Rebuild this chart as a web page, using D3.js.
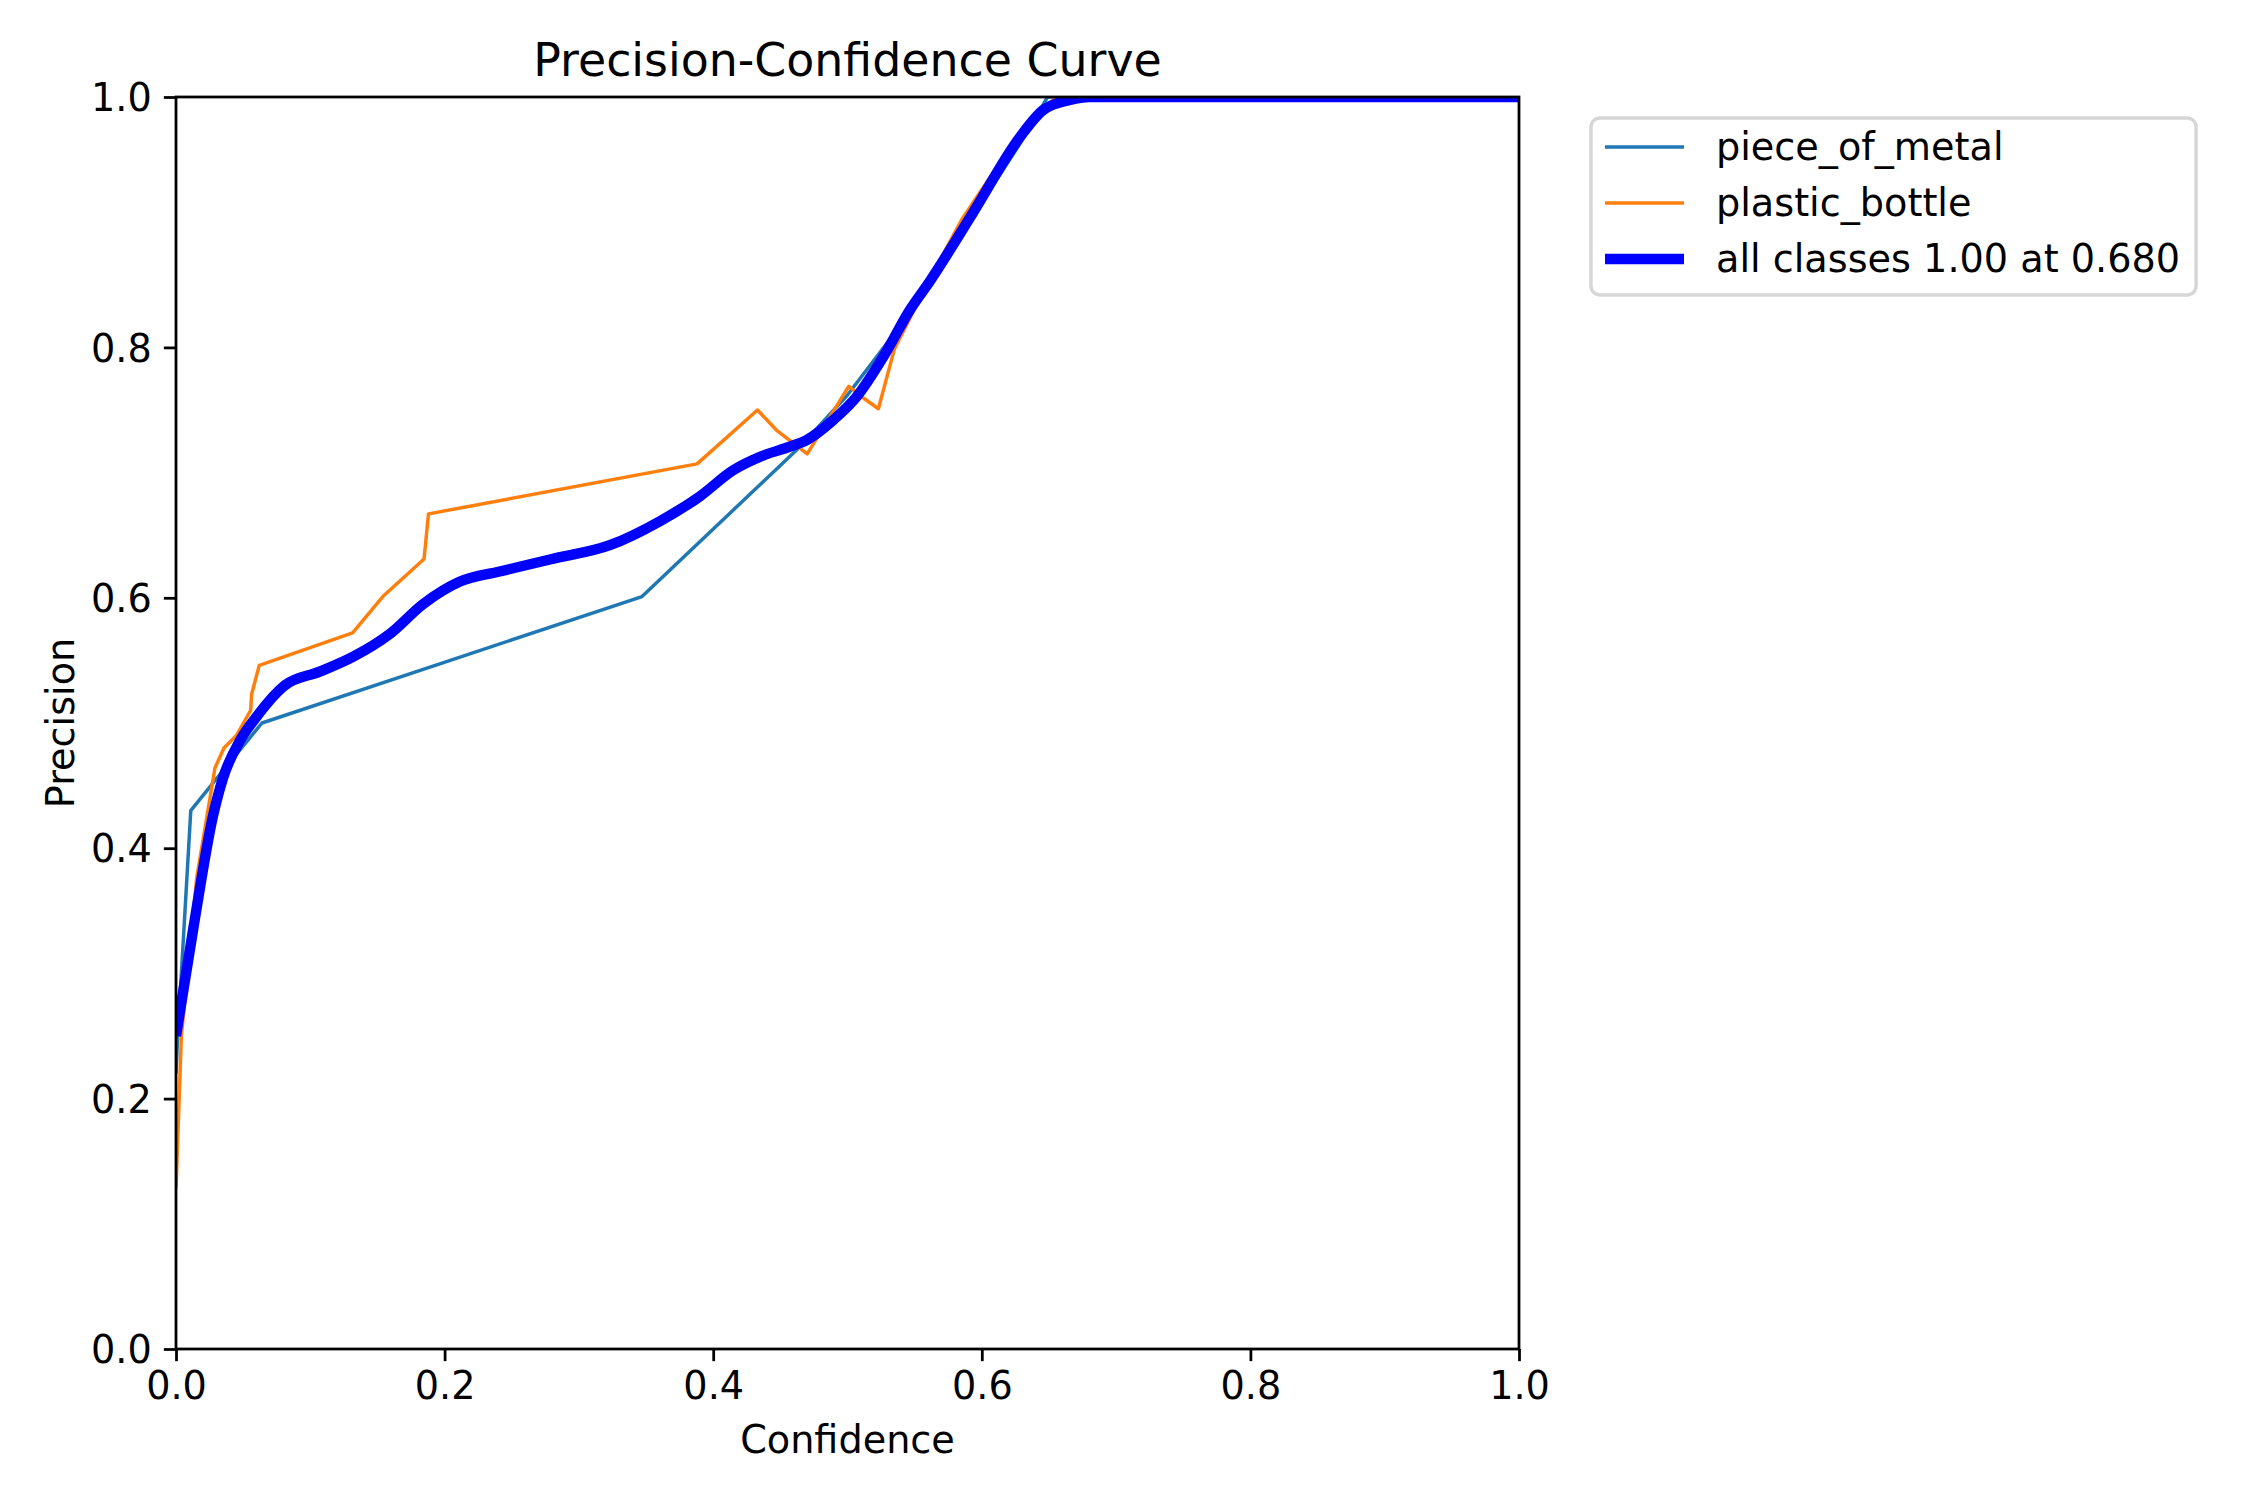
<!DOCTYPE html>
<html>
<head>
<meta charset="utf-8">
<script src="https://cdn.jsdelivr.net/npm/d3@7"></script>
<style>
  html,body{margin:0;padding:0;background:#fff;}
  text{font-family:"DejaVu Sans",sans-serif;fill:#000;}
</style>
</head>
<body>
<div id="chart"></div>
<script>
// data
const seriesNames = ['piece_of_metal', 'plastic_bottle', 'all classes 1.00 at 0.680'];

const metalConf = [0, 0.001, 0.011, 0.029, 0.064, 0.347, 0.465, 0.50, 0.537, 0.562, 0.594, 0.628, 0.649, 1.0];
const metalPrec = [0.22, 0.244, 0.43, 0.454, 0.50, 0.601, 0.721, 0.762, 0.814, 0.853, 0.906, 0.962, 1.0, 1.0];

const bottleConf = [0, 0.004, 0.0154, 0.029, 0.0357, 0.045, 0.0556, 0.0563, 0.062, 0.1315, 0.154, 0.1847, 0.188, 0.388, 0.433, 0.447, 0.470, 0.501, 0.510, 0.523, 0.535, 0.56, 0.585, 0.62, 0.655, 1.0];
const bottlePrec = [0.128, 0.25, 0.376, 0.464, 0.48, 0.49, 0.51, 0.523, 0.546, 0.572, 0.601, 0.631, 0.667, 0.707, 0.750, 0.734, 0.715, 0.769, 0.761, 0.751, 0.799, 0.852, 0.902, 0.958, 1.0, 1.0];

const allConf = [0, 0.0129, 0.0278, 0.035, 0.0477, 0.060, 0.081, 0.107, 0.132, 0.159, 0.184, 0.2115, 0.241, 0.28, 0.323, 0.360, 0.390, 0.415, 0.435, 0.457, 0.4696, 0.4894, 0.5068, 0.5267, 0.5465, 0.5614, 0.5937, 0.6284, 0.6458, 0.6657, 0.68, 1.0];
const allPrec = [0.25, 0.336, 0.427, 0.456, 0.486, 0.505, 0.530, 0.541, 0.553, 0.571, 0.595, 0.613, 0.621, 0.631, 0.642, 0.661, 0.681, 0.702, 0.7127, 0.7207, 0.726, 0.742, 0.7606, 0.7926, 0.83, 0.853, 0.908, 0.968, 0.9896, 0.9976, 1.0, 1.0];

const tickVals = [0, 0.2, 0.4, 0.6, 0.8, 1.0];

const W = 2250, H = 1500;
const pt = 250/72;            // matplotlib dpi 250
const fs = 10*pt*1.1;         // text size as it comes out in the picture
const m = {left:176, top:97, right:1519, bottom:1349};

const svg = d3.select('#chart').append('svg').attr('width', W).attr('height', H);

const x = d3.scaleLinear().domain([0,1]).range([m.left, m.right]);
const y = d3.scaleLinear().domain([0,1]).range([m.bottom, m.top]);

svg.append('clipPath').attr('id','plotclip').append('rect')
  .attr('x', m.left).attr('y', m.top).attr('width', m.right-m.left).attr('height', m.bottom-m.top);

const zip = (a,b)=> a.map((v,i)=>[v,b[i]]);
const series = [
  {name:seriesNames[0], pts:zip(metalConf, metalPrec), color:'#1f77b4', lw:1*pt, curve:d3.curveLinear},
  {name:seriesNames[1], pts:zip(bottleConf, bottlePrec), color:'#ff7f0e', lw:1*pt, curve:d3.curveLinear},
  {name:seriesNames[2], pts:zip(allConf, allPrec), color:'#0000ff', lw:3*pt, curve:d3.curveMonotoneX}
];

const plot = svg.append('g').attr('clip-path','url(#plotclip)');
series.forEach(s=>{
  const line = d3.line().x(d=>x(d[0])).y(d=>y(d[1])).curve(s.curve);
  plot.append('path').datum(s.pts)
    .attr('fill','none').attr('stroke', s.color).attr('stroke-width', s.lw)
    .attr('stroke-linejoin','round').attr('stroke-linecap','butt')
    .attr('d', line);
});

// axes
const xAxis = d3.axisBottom(x).tickValues(tickVals).tickFormat(d3.format('.1f')).tickSize(3.5*pt).tickPadding(3.5*pt);
const yAxis = d3.axisLeft(y).tickValues(tickVals).tickFormat(d3.format('.1f')).tickSize(3.5*pt).tickPadding(3.5*pt);

const gx = svg.append('g').attr('transform', `translate(0,${m.bottom})`).call(xAxis);
const gy = svg.append('g').attr('transform', `translate(${m.left},0)`).call(yAxis);
[gx, gy].forEach(g=>{
  g.select('.domain').remove();
  g.selectAll('line').attr('stroke','#000').attr('stroke-width', 0.8*pt);
  g.selectAll('text').style('font-size', fs+'px').style('font-family','"DejaVu Sans"');
});
gx.selectAll('text').attr('dy', null).attr('y', 7*pt - 2).attr('dominant-baseline','hanging');
gy.selectAll('text').attr('dy', '0.36em');

// spines
svg.append('rect').attr('x', m.left).attr('y', m.top).attr('width', m.right-m.left).attr('height', m.bottom-m.top)
  .attr('fill','none').attr('stroke','#000').attr('stroke-width', 0.8*pt);

// title and labels
const cx = (m.left+m.right)/2, cy = (m.top+m.bottom)/2;
svg.append('text').attr('x', cx).attr('y', m.top-6*pt).attr('text-anchor','middle')
  .style('font-size', (12*pt*1.1)+'px').text('Precision-Confidence Curve');
svg.append('text').attr('x', cx).attr('y', 1453).attr('text-anchor','middle')
  .style('font-size', fs+'px').text('Confidence');
svg.append('text').attr('transform', `translate(74,${cy}) rotate(-90)`).attr('text-anchor','middle')
  .style('font-size', fs+'px').text('Precision');

// legend
const lg = svg.append('g');
const lx = 1591, ly = 118;
const pitch = 56, hx0 = 1605, hl = 79, tx = 1716, rowY0 = 147;
const frame = lg.append('rect').attr('x', lx).attr('y', ly).attr('rx', 9).attr('ry', 9)
  .attr('fill','#fff').attr('fill-opacity',0.8).attr('stroke','#cccccc').attr('stroke-opacity',0.8).attr('stroke-width', 1*pt);
let maxW = 0;
series.forEach((s,i)=>{
  const cyRow = rowY0 + i*pitch;
  lg.append('line').attr('x1', hx0).attr('x2', hx0+hl).attr('y1', cyRow).attr('y2', cyRow)
    .attr('stroke', s.color).attr('stroke-width', s.lw);
  const t = lg.append('text').attr('x', tx).attr('y', cyRow + 0.33*fs).style('font-size', fs+'px').text(s.name);
  maxW = Math.max(maxW, t.node().getComputedTextLength());
});
frame.attr('width', tx - lx + maxW + 16).attr('height', 177);
</script>
</body>
</html>
